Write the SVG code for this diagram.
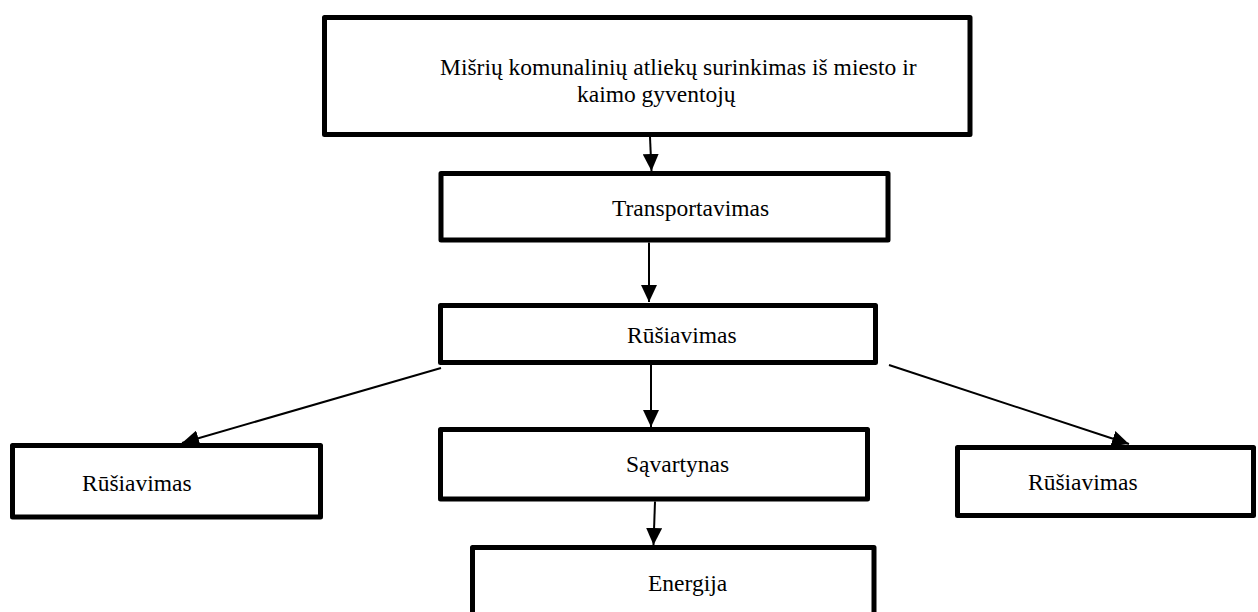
<svg xmlns="http://www.w3.org/2000/svg" width="1258" height="612" viewBox="0 0 1258 612">
  <style>
    .box { fill: #ffffff; stroke: #000000; stroke-width: 5; stroke-linejoin: round; }
    .lbl { font-size: 23.5px; fill: #000000; }
    .link { stroke: #000000; stroke-width: 2; fill: none; marker-end: url(#head); }
  </style>
  <defs>
    <marker id="head" markerUnits="userSpaceOnUse" markerWidth="17" markerHeight="16" refX="17" refY="8" orient="auto">
      <path d="M0,0 L17,8 L0,16 z" fill="#000000"/>
    </marker>
  </defs>
  <rect width="1258" height="612" fill="#ffffff"/>

  <g font-family="'Liberation Serif', 'Times New Roman', 'DejaVu Serif', serif">
    <g id="collection">
      <rect class="box" x="324.5" y="17.5" width="645.5" height="117"/>
      <text class="lbl" x="440" y="75">Mišrių komunalinių atliekų surinkimas iš miesto ir</text>
      <text class="lbl" x="577" y="102">kaimo gyventojų</text>
    </g>

    <g id="transport">
      <rect class="box" x="441" y="173.5" width="447" height="66.5"/>
      <text class="lbl" x="612" y="216">Transportavimas</text>
    </g>

    <g id="sorting-main">
      <rect class="box" x="440.5" y="305.5" width="435" height="57"/>
      <text class="lbl" x="627" y="343">Rūšiavimas</text>
    </g>

    <g id="landfill">
      <rect class="box" x="440.5" y="429.5" width="427" height="69.5"/>
      <text class="lbl" x="626" y="472">Sąvartynas</text>
    </g>

    <g id="sorting-left">
      <rect class="box" x="12.5" y="445.5" width="308" height="71.5"/>
      <text class="lbl" x="82" y="491">Rūšiavimas</text>
    </g>

    <g id="sorting-right">
      <rect class="box" x="957.5" y="447.5" width="296" height="68"/>
      <text class="lbl" x="1028" y="490">Rūšiavimas</text>
    </g>

    <g id="energy">
      <rect class="box" x="472.5" y="547.5" width="401.5" height="80"/>
      <text class="lbl" x="648" y="591">Energija</text>
    </g>
  </g>

  <g id="connectors">
    <line class="link" x1="650" y1="137" x2="651.5" y2="171"/>
    <line class="link" x1="649" y1="242.5" x2="649" y2="302"/>
    <line class="link" x1="651" y1="365" x2="651" y2="427"/>
    <line class="link" x1="655" y1="501.5" x2="653.5" y2="545"/>
    <line class="link" x1="441" y1="368" x2="182" y2="443"/>
    <line class="link" x1="889" y1="365" x2="1129" y2="444"/>
  </g>
</svg>
